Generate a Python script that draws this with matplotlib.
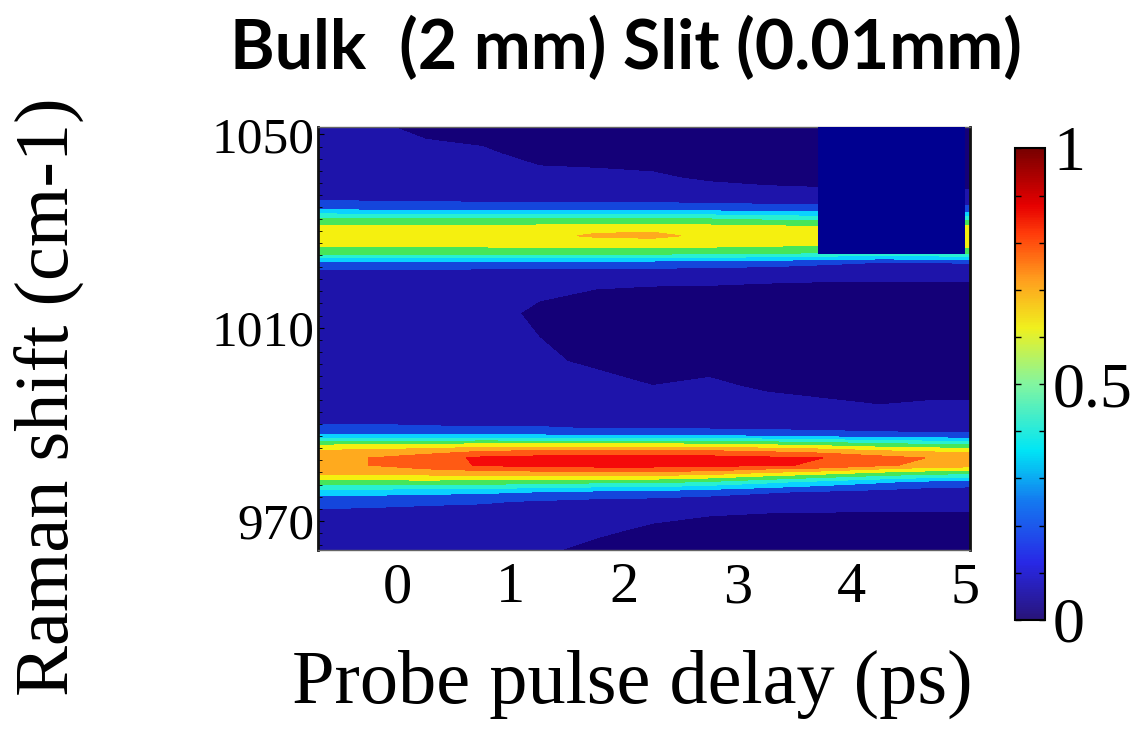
import matplotlib as mpl
import matplotlib.pyplot as plt
import numpy as np
from matplotlib.colors import LinearSegmentedColormap, Normalize
from matplotlib.patches import Rectangle
from matplotlib.ticker import MultipleLocator

mpl.use('Agg')
plt.rcParams['font.family'] = ['Liberation Serif', 'DejaVu Serif']

# probe delay (ps) along x, Raman shift (cm-1) along y
delay_ps = [-0.7, -0.25, 0.25, 0.75, 1.25, 1.75, 2.25, 2.75, 3.25, 3.75, 4.25, 4.75, 5.05]
shift_cm = [964, 968, 971, 974, 976, 978, 980, 981.5, 983, 984.5, 986, 987.5,
            989, 991, 994, 998, 1003, 1008, 1013, 1018, 1021, 1023.5, 1025.5,
            1027.5, 1029, 1030.5, 1032.5, 1034.5, 1037, 1041, 1046, 1052]

# normalised Raman intensity, one row per shift value
intensity = [
    [0.14, 0.14, 0.12, 0.13, 0.12, 0.07, 0.06, 0.06, 0.06, 0.06, 0.06, 0.06, 0.06],
    [0.15, 0.14, 0.13, 0.15, 0.14, 0.12, 0.08, 0.07, 0.07, 0.07, 0.07, 0.07, 0.07],
    [0.16, 0.16, 0.15, 0.15, 0.14, 0.13, 0.12, 0.10, 0.09, 0.09, 0.09, 0.09, 0.09],
    [0.24, 0.23, 0.22, 0.21, 0.19, 0.17, 0.16, 0.15, 0.14, 0.13, 0.12, 0.12, 0.12],
    [0.34, 0.34, 0.33, 0.32, 0.30, 0.28, 0.27, 0.24, 0.21, 0.19, 0.17, 0.15, 0.15],
    [0.56, 0.56, 0.56, 0.55, 0.54, 0.52, 0.52, 0.48, 0.42, 0.36, 0.31, 0.26, 0.25],
    [0.73, 0.73, 0.75, 0.76, 0.77, 0.78, 0.78, 0.76, 0.70, 0.65, 0.59, 0.55, 0.54],
    [0.78, 0.80, 0.85, 0.91, 0.93, 0.94, 0.94, 0.93, 0.91, 0.89, 0.82, 0.76, 0.75],
    [0.78, 0.80, 0.85, 0.92, 0.94, 0.94, 0.94, 0.94, 0.92, 0.90, 0.84, 0.79, 0.78],
    [0.71, 0.72, 0.75, 0.79, 0.80, 0.80, 0.80, 0.80, 0.78, 0.75, 0.70, 0.68, 0.67],
    [0.57, 0.57, 0.58, 0.59, 0.59, 0.59, 0.59, 0.58, 0.56, 0.53, 0.50, 0.47, 0.46],
    [0.32, 0.33, 0.33, 0.33, 0.32, 0.31, 0.31, 0.31, 0.30, 0.28, 0.26, 0.25, 0.24],
    [0.22, 0.22, 0.21, 0.21, 0.21, 0.20, 0.20, 0.20, 0.19, 0.18, 0.16, 0.16, 0.16],
    [0.18, 0.18, 0.18, 0.17, 0.17, 0.16, 0.16, 0.16, 0.15, 0.14, 0.13, 0.13, 0.13],
    [0.16, 0.16, 0.15, 0.15, 0.14, 0.14, 0.13, 0.13, 0.12, 0.11, 0.10, 0.11, 0.11],
    [0.15, 0.14, 0.14, 0.13, 0.12, 0.12, 0.10, 0.11, 0.09, 0.08, 0.08, 0.07, 0.07],
    [0.14, 0.12, 0.13, 0.12, 0.11, 0.09, 0.08, 0.08, 0.07, 0.06, 0.06, 0.06, 0.06],
    [0.13, 0.14, 0.12, 0.11, 0.10, 0.08, 0.07, 0.07, 0.06, 0.06, 0.06, 0.06, 0.06],
    [0.14, 0.13, 0.11, 0.12, 0.09, 0.08, 0.07, 0.07, 0.07, 0.07, 0.07, 0.07, 0.07],
    [0.13, 0.13, 0.12, 0.11, 0.11, 0.10, 0.09, 0.09, 0.08, 0.08, 0.08, 0.08, 0.08],
    [0.15, 0.15, 0.15, 0.14, 0.14, 0.14, 0.14, 0.13, 0.13, 0.12, 0.12, 0.12, 0.12],
    [0.28, 0.27, 0.27, 0.27, 0.27, 0.27, 0.26, 0.25, 0.24, 0.22, 0.20, 0.20, 0.21],
    [0.54, 0.54, 0.54, 0.54, 0.54, 0.54, 0.54, 0.53, 0.52, 0.50, 0.48, 0.50, 0.52],
    [0.64, 0.64, 0.64, 0.64, 0.65, 0.66, 0.66, 0.65, 0.64, 0.63, 0.62, 0.64, 0.66],
    [0.66, 0.67, 0.67, 0.67, 0.68, 0.71, 0.72, 0.68, 0.67, 0.66, 0.65, 0.67, 0.70],
    [0.64, 0.65, 0.65, 0.65, 0.66, 0.68, 0.68, 0.66, 0.65, 0.64, 0.63, 0.64, 0.66],
    [0.52, 0.50, 0.50, 0.50, 0.50, 0.50, 0.50, 0.50, 0.48, 0.46, 0.45, 0.45, 0.46],
    [0.30, 0.28, 0.27, 0.27, 0.27, 0.27, 0.27, 0.26, 0.25, 0.24, 0.23, 0.23, 0.23],
    [0.17, 0.16, 0.16, 0.15, 0.15, 0.15, 0.14, 0.14, 0.13, 0.13, 0.12, 0.12, 0.12],
    [0.15, 0.15, 0.14, 0.13, 0.12, 0.12, 0.11, 0.09, 0.08, 0.07, 0.07, 0.07, 0.07],
    [0.15, 0.14, 0.12, 0.11, 0.08, 0.07, 0.07, 0.06, 0.06, 0.06, 0.06, 0.06, 0.06],
    [0.13, 0.11, 0.08, 0.07, 0.07, 0.06, 0.06, 0.06, 0.06, 0.06, 0.06, 0.06, 0.06],
]

# blanked corner block (delay range, shift range)
mask_delay = (3.71, 5.0)
mask_shift = (1025.2, 1051.5)

x_ticks = [0, 1, 2, 3, 4, 5]
y_ticks = [970, 1010, 1050]
cbar_ticks = [0, 0.5, 1]
cbar_labels = ['0', '0.5', '1']

levels = np.linspace(0, 1, 11)
band_colors = ['#140078', '#1e14aa', '#1446dc', '#0ad2ff', '#28f0d2',
               '#46e65a', '#f5f00f', '#ffaa1e', '#ff5a14', '#f50a0a']
bar_cmap = LinearSegmentedColormap.from_list('bar', [
    (0.0, '#28147a'), (0.12, '#2828e6'), (0.25, '#1478f0'), (0.36, '#00e6f5'),
    (0.5, '#82f5a0'), (0.62, '#f0f01e'), (0.72, '#ffa01e'), (0.82, '#ff3c0a'),
    (0.88, '#e60000'), (1.0, '#780000')])

fig = plt.figure(figsize=(11.43, 7.31), dpi=100)
ax = fig.add_axes([0.278, 0.248, 0.571, 0.578])
cax = fig.add_axes([0.888, 0.152, 0.026, 0.645])

ax.contourf(delay_ps, shift_cm, np.array(intensity), levels=levels,
            colors=band_colors)
ax.add_patch(Rectangle((mask_delay[0], mask_shift[0]),
                       mask_delay[1] - mask_delay[0],
                       mask_shift[1] - mask_shift[0],
                       facecolor='#000090', edgecolor='none', zorder=3))

ax.set_xlim(-0.7, 5.05)
ax.set_ylim(964, 1051.5)
ax.set_xticks(x_ticks)
ax.set_yticks(y_ticks)
ax.yaxis.set_minor_locator(MultipleLocator(2.5))
ax.tick_params(axis='x', length=0, pad=9, labelsize=42)
ax.tick_params(axis='y', which='major', direction='in', length=4, pad=2,
               labelsize=37)
ax.tick_params(axis='y', which='minor', direction='in', length=3)
for side in ('left', 'right'):
    ax.spines[side].set_linewidth(2)
    ax.spines[side].set_color('#111111')
for side in ('top', 'bottom'):
    ax.spines[side].set_linewidth(1)
    ax.spines[side].set_color('#666666')

ax.set_xlabel('Probe pulse delay (ps)', fontsize=55)
ax.xaxis.set_label_coords(0.482, -0.236)
ax.set_ylabel('Raman shift (cm-1)', fontsize=55)
ax.yaxis.set_label_coords(-0.357, 0.362)

cb = fig.colorbar(mpl.cm.ScalarMappable(norm=Normalize(0, 1), cmap=bar_cmap),
                  cax=cax, ticks=cbar_ticks)
cb.set_ticklabels(cbar_labels)
cb.outline.set_linewidth(1.5)
cax.yaxis.set_minor_locator(MultipleLocator(0.1))
cax.tick_params(which='both', direction='in', left=True, right=True,
                length=4, width=1, labelsize=46, pad=6)

fig.text(0.548, 0.934, 'Bulk  (2 mm) Slit (0.01mm)', family=['Lato', 'DejaVu Sans'],
         fontweight='bold', fontsize=49, ha='center', va='center')

fig.savefig('out.png', dpi=100, facecolor='white')
